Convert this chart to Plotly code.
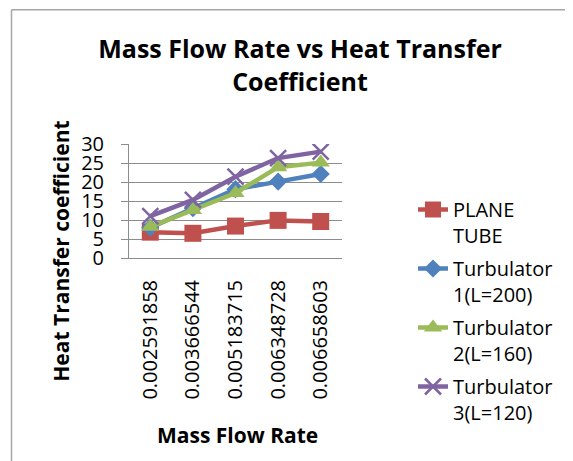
import plotly.graph_objects as go

categories = ["0.002591858", "0.003666544", "0.005183715", "0.006348728", "0.006658603"]
plane_tube = [6.8, 6.5, 8.4, 9.9, 9.6]
turbulator_1 = [8.0, 13.1, 18.1, 20.1, 22.1]
turbulator_2 = [8.2, 12.6, 17.1, 23.9, 25.1]
turbulator_3 = [11.0, 15.3, 21.4, 26.3, 28.0]
series_names = ["PLANE<br>TUBE", "Turbulator<br>1(L=200)", "Turbulator<br>2(L=160)", "Turbulator<br>3(L=120)"]
y_ticks = [0, 5, 10, 15, 20, 25, 30]

W, H = 573, 461
OFF = 8  # page body margin offset
# plot area in reference pixels
L_REF, R_REF, T_REF, B_REF = 129, 342, 144, 258.3
L, R, T, B = L_REF - OFF, R_REF - OFF, T_REF - OFF, B_REF - OFF

FONT = "Open Sans"
GRID = "#8c8c8c"

fig = go.Figure()
styles = [
    dict(color="#C0504D", symbol="square", size=17),
    dict(color="#4F81BD", symbol="diamond", size=14),
    dict(color="#9BBB59", symbol="triangle-up", size=16),
    dict(color="#8064A2", symbol="x-thin", size=16),
]
for i, (name, vals, st) in enumerate(zip(series_names,
                                        [plane_tube, turbulator_1, turbulator_2, turbulator_3],
                                        styles)):
    marker = dict(symbol=st["symbol"], size=st["size"], color=st["color"])
    if st["symbol"] == "x-thin":
        marker["line"] = dict(color=st["color"], width=2.5)
    fig.add_trace(go.Scatter(
        x=categories, y=vals, name=name, mode="lines+markers",
        line=dict(color=st["color"], width=4.5),
        marker=marker, legendgroup=f"g{i}",
    ))

def px_x(p):
    return (p - OFF - L) / (R - L)

def px_y(p):
    return (B - (p - OFF)) / (B - T)

def cx(p):
    return (p - OFF) / W

def cy(p):
    return 1 - (p - OFF) / H

fig.update_layout(
    width=W, height=H,
    margin=dict(l=L, r=W - R, t=T, b=H - B, pad=0, autoexpand=False),
    paper_bgcolor="white", plot_bgcolor="white",
    font=dict(family=FONT, color="black"),
    title=dict(text="<b>Mass Flow Rate vs Heat Transfer<br>Coefficient</b>",
               x=cx(300), xanchor="center", xref="container",
               y=cy(58), yanchor="top", yref="container",
               font=dict(size=25, family=FONT, color="black")),
    showlegend=True,
    legend=dict(x=cx(413), xanchor="left", xref="container",
                y=cy(190), yanchor="top", yref="container",
                maxheight=0.95,
                font=dict(size=20, family=FONT, color="black"),
                valign="top", tracegroupgap=4, itemwidth=30,
                bgcolor="rgba(0,0,0,0)"),
    xaxis=dict(type="category", showline=True, linecolor=GRID, linewidth=1,
               showgrid=False, ticks="", tickangle=-90, automargin=False,
               ticklabelstandoff=13,
               tickfont=dict(size=20, family=FONT, color="black"),
               range=[-0.5, 4.5]),
    yaxis=dict(range=[0, 30], tickmode="array", tickvals=y_ticks,
               showline=True, linecolor=GRID, linewidth=1,
               showgrid=True, gridcolor=GRID, gridwidth=1,
               zeroline=False, automargin=False,
               ticks="outside", ticklen=7, tickcolor=GRID,
               ticklabelstandoff=13,
               tickfont=dict(size=20, family=FONT, color="black")),
    annotations=[
        dict(text="<b>Mass Flow Rate</b>", xref="paper", yref="paper",
             x=px_x(237), y=px_y(436), xanchor="center", yanchor="middle",
             showarrow=False, font=dict(size=21, family=FONT, color="black")),
        dict(text="<b>Heat Transfer coefficient</b>", xref="paper", yref="paper",
             x=px_x(61), y=px_y(252), xanchor="center", yanchor="middle",
             textangle=-90,
             showarrow=False, font=dict(size=21, family=FONT, color="black")),
    ],
    shapes=[
        dict(type="line", xref="paper", yref="paper",
             x0=px_x(11.5), x1=px_x(W + 30), y0=px_y(9.5), y1=px_y(9.5),
             line=dict(color="#a6a6a6", width=1.5)),
        dict(type="line", xref="paper", yref="paper",
             x0=px_x(11.5), x1=px_x(11.5), y0=px_y(9.5), y1=px_y(H + 30),
             line=dict(color="#a6a6a6", width=1.5)),
    ],
)

fig.write_html("out.html")
